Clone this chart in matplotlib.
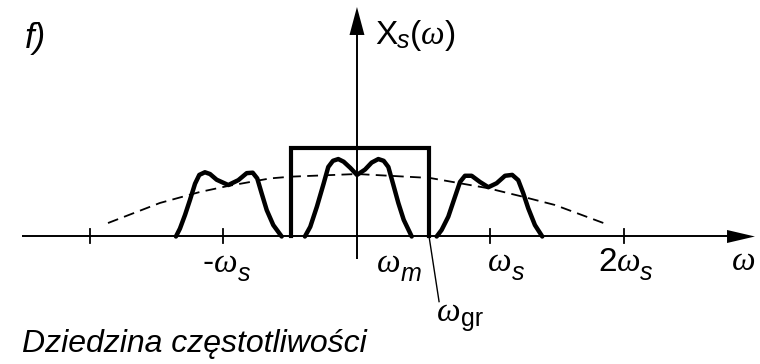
import numpy as np
import matplotlib
matplotlib.use('Agg')
import matplotlib.pyplot as plt
from matplotlib.patches import Polygon
from matplotlib.transforms import IdentityTransform

plt.rcParams['font.family'] = ['Liberation Sans', 'DejaVu Sans']

# frequency in units of w_s, amplitude in units of the filter height
# spectrum replica around -w_s
left_w = [-1.356, -1.326, -1.288, -1.251, -1.213, -1.181, -1.139, -1.101, -1.051,
          -0.964, -0.889, -0.826, -0.781, -0.747, -0.714, -0.676, -0.627, -0.564]
left_x = [0.0, 0.09, 0.245, 0.415, 0.60, 0.70, 0.73, 0.71, 0.645,
          0.585, 0.64, 0.72, 0.725, 0.66, 0.49, 0.30, 0.13, 0.0]

# baseband spectrum
mid_w = [-0.39, -0.35, -0.30, -0.25, -0.215, -0.18, -0.14, -0.10, -0.05, 0.0,
         0.06, 0.11, 0.16, 0.20, 0.235, 0.27, 0.31, 0.35, 0.41]
mid_x = [0.0, 0.11, 0.34, 0.60, 0.79, 0.86, 0.88, 0.85, 0.78, 0.70,
         0.76, 0.84, 0.88, 0.86, 0.79, 0.60, 0.38, 0.19, 0.0]

# replica around +w_s
right_w = [0.597, 0.634, 0.684, 0.734, 0.772, 0.809, 0.859, 0.921, 0.984,
           1.046, 1.109, 1.163, 1.208, 1.246, 1.283, 1.333, 1.388]
right_x = [0.0, 0.074, 0.225, 0.45, 0.62, 0.69, 0.69, 0.62, 0.56,
           0.605, 0.69, 0.70, 0.64, 0.49, 0.32, 0.13, 0.0]

# sample-and-hold envelope (dashed)
env_w = [-1.865, -1.476, -1.176, -0.966, -0.652, -0.494, 0.0, 0.547, 0.981, 1.221, 1.483, 1.85]
env_x = [0.153, 0.381, 0.506, 0.574, 0.660, 0.68, 0.71, 0.665, 0.549, 0.46, 0.358, 0.151]

# ideal low-pass filter
filt_lo, filt_hi, filt_h = -0.495, 0.54, 1.0
w_gr = filt_hi

tick_w = [-2, -1, 1, 2]

fig = plt.figure(figsize=(7.6, 3.64), dpi=100)
ax = fig.add_axes([0, 0, 1, 1])
ax.set_xlim(-2.674, 3.019)
ax.set_ylim(-1.449, 2.6875)
ax.axis('off')
renderer = fig.canvas.get_renderer()

# fonts: omega like a serif italic, indices in sans
OM = dict(family='Liberation Serif', style='italic', fontsize=24)
SUB = dict(family='Liberation Sans', style='italic', fontsize=18)
SUB_RM = dict(family='Liberation Sans', fontsize=18)
RM = dict(family='Liberation Sans', fontsize=24)


def label(x, y, parts):
    # lay out text pieces one after another; dy is a baseline shift in pixels
    px, py = ax.transData.transform((x, y))
    for s, kw, dy in parts:
        t = ax.text(px, py + dy, s, transform=IdentityTransform(), va='baseline', **kw)
        px = t.get_window_extent(renderer).x1


# axes with arrowheads
ax.plot([-2.51, 2.78], [0, 0], color='black', lw=1.4, solid_capstyle='butt')
ax.add_patch(Polygon([[2.772, 0.074], [2.981, 0.0], [2.772, -0.074]], closed=True, color='black', lw=0))
ax.plot([0, 0], [-0.256, 2.30], color='black', lw=1.4, solid_capstyle='butt')
ax.add_patch(Polygon([[-0.056, 2.29], [0.0, 2.608], [0.056, 2.29]], closed=True, color='black', lw=0))

for t in tick_w:
    ax.plot([t, t], [-0.074, 0.085], color='black', lw=1.3)

# filter rectangle
ax.plot([filt_lo, filt_lo, filt_hi, filt_hi], [0, filt_h, filt_h, 0], color='black', lw=3.0,
        solid_joinstyle='miter')

# envelope
ax.plot(env_w, env_x, color='black', lw=1.3, linestyle=(0, (6, 3.5)))

# spectra
for ws, xs in [(left_w, left_x), (mid_w, mid_x), (right_w, right_x)]:
    ax.plot(ws, xs, color='black', lw=3.2, solid_joinstyle='round', solid_capstyle='round')

# w_gr pointer
ax.plot([w_gr, w_gr + 0.075], [0, -0.74], color='black', lw=1.0)

ax.text(-2.485, 2.142, 'f)', fontsize=25, style='italic', va='baseline')
label(0.135, 2.19, [('X', RM, 0), ('s', SUB, -4), ('(', RM, 0), ('ω', OM, 0), (')', RM, 0)])
label(-1.154, -0.403, [('-', RM, 0), ('ω', OM, 0), ('s', SUB, -9)])
label(0.150, -0.403, [('ω', OM, 0), ('m', SUB, -9)])
label(0.981, -0.392, [('ω', OM, 0), ('s', SUB, -9)])
label(1.805, -0.392, [('2', RM, 0), ('ω', OM, 0), ('s', SUB, -9)])
label(2.809, -0.381, [('ω', OM, 0)])
label(0.599, -0.96, [('ω', OM, 0), ('gr', SUB_RM, -5)])
ax.text(-2.509, -1.3125, 'Dziedzina częstotliwości', fontsize=23, style='italic', va='baseline')

fig.savefig('out.png', dpi=100)
